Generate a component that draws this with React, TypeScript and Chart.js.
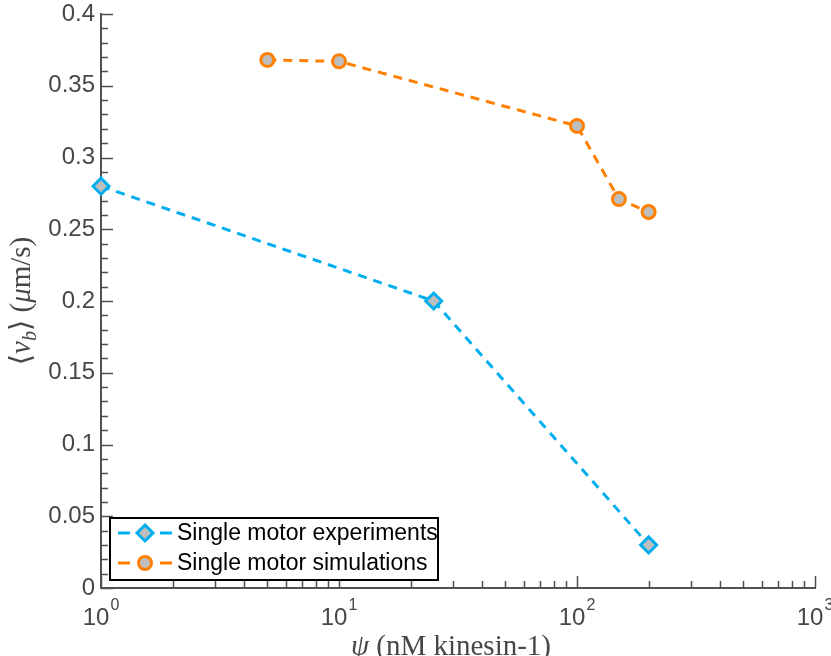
import React, { useEffect, useRef } from 'react';
import { Chart, registerables } from 'chart.js';

Chart.register(...registerables);

// ---- data ----
const expConc = [1, 25, 200];
const expSpeed = [0.28, 0.2, 0.03];
const simConc = [5, 10, 100, 150, 200];
const simSpeed = [0.368, 0.367, 0.322, 0.271, 0.262];
const seriesLabels = ['Single motor experiments', 'Single motor simulations'];
const xDecades = [1, 10, 100, 1000];
const xExponents = ['0', '1', '2', '3'];
const yMajorTicks = [0, 0.05, 0.1, 0.15, 0.2, 0.25, 0.3, 0.35, 0.4];
const yMinorTicks = [
  0.01, 0.02, 0.03, 0.04, 0.06, 0.07, 0.08, 0.09, 0.11, 0.12, 0.13, 0.14,
  0.16, 0.17, 0.18, 0.19, 0.21, 0.22, 0.23, 0.24, 0.26, 0.27, 0.28, 0.29,
  0.31, 0.32, 0.33, 0.34, 0.36, 0.37, 0.38, 0.39,
];
const xMinorMultipliers = [2, 3, 4, 5, 6, 7, 8, 9];

type Part = { t: string; it?: boolean; sub?: boolean };
const xTitleParts: Part[] = [
  { t: '\u03C8', it: true },
  { t: ' (nM kinesin-1)' },
];
const yTitleParts: Part[] = [
  { t: '\u27E8' },
  { t: 'v', it: true },
  { t: 'b', it: true, sub: true },
  { t: '\u27E9 (' },
  { t: '\u03BC', it: true },
  { t: 'm/s)' },
];

// ---- styles ----
const AXIS = '#505050';
const TXT = '#474747';
const BLUE = '#00AEEF';
const ORANGE = '#FF8000';
const GREY = '#BEBEBE';
const SANS = '"Liberation Sans", Arial, Helvetica, sans-serif';
const SERIF = '"Liberation Serif", "DejaVu Serif", serif';

function drawRich(ctx: CanvasRenderingContext2D, parts: Part[], size: number, cx: number, y: number) {
  const fontFor = (p: Part) =>
    `${p.it ? 'italic ' : ''}${p.sub ? Math.round(size * 0.7) : size}px ${SERIF}`;
  let total = 0;
  const widths = parts.map((p) => {
    ctx.font = fontFor(p);
    const w = ctx.measureText(p.t).width;
    total += w;
    return w;
  });
  let x = cx - total / 2;
  ctx.textAlign = 'left';
  ctx.textBaseline = 'alphabetic';
  parts.forEach((p, i) => {
    ctx.font = fontFor(p);
    ctx.fillText(p.t, x, y + (p.sub ? size * 0.22 : 0));
    x += widths[i];
  });
}

function drawMarker(ctx: CanvasRenderingContext2D, style: string, x: number, y: number, r: number, fill: string, stroke: string, bw: number) {
  ctx.beginPath();
  if (style === 'rectRot') {
    ctx.moveTo(x, y - r);
    ctx.lineTo(x + r, y);
    ctx.lineTo(x, y + r);
    ctx.lineTo(x - r, y);
    ctx.closePath();
  } else {
    ctx.arc(x, y, r, 0, Math.PI * 2);
  }
  ctx.fillStyle = fill;
  ctx.fill();
  ctx.lineWidth = bw;
  ctx.strokeStyle = stroke;
  ctx.setLineDash([]);
  ctx.stroke();
}

const decorPlugin = {
  id: 'decor',
  beforeDatasetsDraw(chart: any) {
    const { ctx, chartArea } = chart;
    const xs = chart.scales.x;
    const ys = chart.scales.y;
    ctx.save();
    ctx.strokeStyle = AXIS;
    ctx.lineWidth = 1.5;
    ctx.beginPath();
    yMajorTicks.forEach((v) => {
      const p = Math.round(ys.getPixelForValue(v)) + 0.5;
      ctx.moveTo(chartArea.left, p);
      ctx.lineTo(chartArea.left + 12, p);
    });
    yMinorTicks.forEach((v) => {
      const p = Math.round(ys.getPixelForValue(v)) + 0.5;
      ctx.moveTo(chartArea.left, p);
      ctx.lineTo(chartArea.left + 7, p);
    });
    xDecades.forEach((d, i) => {
      const p = Math.round(xs.getPixelForValue(d)) + 0.5;
      ctx.moveTo(p, chartArea.bottom);
      ctx.lineTo(p, chartArea.bottom - 12);
      if (i < xDecades.length - 1) {
        xMinorMultipliers.forEach((m) => {
          const q = Math.round(xs.getPixelForValue(d * m)) + 0.5;
          ctx.moveTo(q, chartArea.bottom);
          ctx.lineTo(q, chartArea.bottom - 7);
        });
      }
    });
    ctx.stroke();
    ctx.restore();
  },
  afterDraw(chart: any) {
    const { ctx, chartArea } = chart;
    const xs = chart.scales.x;
    ctx.save();
    // x tick labels 10^n
    ctx.fillStyle = TXT;
    ctx.textBaseline = 'alphabetic';
    ctx.textAlign = 'left';
    xDecades.forEach((d, i) => {
      const p = xs.getPixelForValue(d);
      ctx.font = `24px ${SANS}`;
      const w1 = ctx.measureText('10').width;
      ctx.font = `16px ${SANS}`;
      const w2 = ctx.measureText(xExponents[i]).width;
      const start = p - (w1 + w2 + 1) / 2;
      ctx.font = `24px ${SANS}`;
      ctx.fillText('10', start, 625);
      ctx.font = `16px ${SANS}`;
      ctx.fillText(xExponents[i], start + w1 + 1, 610);
    });

    // axis titles
    ctx.fillStyle = TXT;
    drawRich(ctx, xTitleParts, 29, 451, 655);
    ctx.save();
    ctx.translate(30, (chartArea.top + chartArea.bottom) / 2);
    ctx.rotate(-Math.PI / 2);
    drawRich(ctx, yTitleParts, 29, 0, 0);
    ctx.restore();

    // legend
    const lx = chartArea.left + 9;
    const ly = chartArea.bottom - 70;
    const lw = 328;
    const lh = 62;
    ctx.fillStyle = '#ffffff';
    ctx.fillRect(lx, ly, lw, lh);
    ctx.lineWidth = 2;
    ctx.strokeStyle = '#000000';
    ctx.setLineDash([]);
    ctx.strokeRect(lx, ly, lw, lh);
    chart.data.datasets.forEach((ds: any, i: number) => {
      const y = ly + 15 + i * 30;
      ctx.strokeStyle = ds.borderColor;
      ctx.lineWidth = 3;
      ctx.beginPath();
      ctx.moveTo(lx + 8, y);
      ctx.lineTo(lx + 20, y);
      ctx.moveTo(lx + 50, y);
      ctx.lineTo(lx + 62, y);
      ctx.stroke();
      drawMarker(ctx, ds.pointStyle, lx + 35, y, ds.pointRadius, ds.pointBackgroundColor, ds.pointBorderColor, ds.pointBorderWidth);
      ctx.fillStyle = '#000000';
      ctx.font = `23px ${SANS}`;
      ctx.textBaseline = 'middle';
      ctx.textAlign = 'left';
      ctx.fillText(ds.label, lx + 67, y + 1);
    });
    ctx.restore();
  },
};

export default function App() {
  const ref = useRef<HTMLCanvasElement | null>(null);
  useEffect(() => {
    if (!ref.current) return;
    const chart = new Chart(ref.current, {
      type: 'line',
      data: {
        datasets: [
          {
            label: seriesLabels[0],
            data: expConc.map((x, i) => ({ x, y: expSpeed[i] })),
            borderColor: BLUE,
            borderWidth: 3,
            borderDash: [9, 7],
            pointStyle: 'rectRot',
            pointRadius: 8,
            pointBackgroundColor: GREY,
            pointBorderColor: BLUE,
            pointBorderWidth: 3,
            fill: false,
            tension: 0,
            clip: false,
          } as any,
          {
            label: seriesLabels[1],
            data: simConc.map((x, i) => ({ x, y: simSpeed[i] })),
            borderColor: ORANGE,
            borderWidth: 3,
            borderDash: [9, 7],
            pointStyle: 'circle',
            pointRadius: 6.5,
            pointBackgroundColor: GREY,
            pointBorderColor: ORANGE,
            pointBorderWidth: 3,
            fill: false,
            tension: 0,
            clip: false,
          } as any,
        ],
      },
      options: {
        animation: false,
        responsive: false,
        devicePixelRatio: 1,
        layout: { padding: { top: 14, right: 16, left: 0, bottom: 0 } },
        plugins: {
          legend: { display: false },
          tooltip: { enabled: false },
        },
        scales: {
          x: {
            type: 'logarithmic',
            min: 1,
            max: 1000,
            grid: { display: false, drawTicks: false },
            border: { display: true, color: AXIS, width: 2 },
            ticks: { display: false },
            afterFit: (s: any) => {
              s.height = 68;
              s.paddingLeft = 0;
              s.paddingRight = 0;
            },
          },
          y: {
            type: 'linear',
            min: 0,
            max: 0.4,
            grid: { display: false, drawTicks: false },
            border: { display: true, color: AXIS, width: 2 },
            ticks: {
              stepSize: 0.05,
              padding: 6,
              color: TXT,
              font: { family: SANS, size: 24, lineHeight: 1 },
              callback: (v: any) => String(Number(Number(v).toFixed(2))),
            },
            afterFit: (s: any) => {
              s.width = 101;
              s.paddingTop = 0;
              s.paddingBottom = 0;
            },
          },
        },
      } as any,
      plugins: [decorPlugin],
    });
    return () => chart.destroy();
  }, []);
  return (
    <div style={{ position: 'absolute', left: 0, top: 0, width: 831, height: 656 }}>
      <canvas ref={ref} width={831} height={656} style={{ display: 'block' }} />
    </div>
  );
}
